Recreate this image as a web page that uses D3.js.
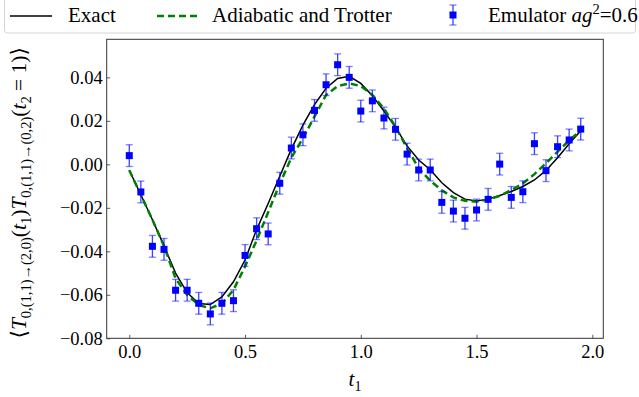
<!DOCTYPE html>
<html>
<head>
<meta charset="utf-8">
<script src="https://cdn.jsdelivr.net/npm/d3@7"></script>
<style>
  body { margin: 0; background: #fff; }
  svg text { font-family: "Liberation Serif", "DejaVu Serif", serif; fill: #000; }
</style>
</head>
<body>
<div id="chart"></div>
<script>
(function(){
    var width = 639;
    var height = 397;
    var serif = '"Liberation Serif", "DejaVu Serif", serif';

    // emulator points (t1 from 0 to 1.95, step 0.05)
    var times = [0.00, 0.05, 0.10, 0.15, 0.20, 0.25, 0.30, 0.35, 0.40, 0.45,
                 0.50, 0.55, 0.60, 0.65, 0.70, 0.75, 0.80, 0.85, 0.90, 0.95,
                 1.00, 1.05, 1.10, 1.15, 1.20, 1.25, 1.30, 1.35, 1.40, 1.45,
                 1.50, 1.55, 1.60, 1.65, 1.70, 1.75, 1.80, 1.85, 1.90, 1.95];

    var emulator = [0.0040, -0.0127, -0.0377, -0.0391, -0.0579, -0.0579, -0.0639, -0.0688, -0.0639, -0.0627,
                    -0.0419, -0.0296, -0.0320, -0.0087, 0.0075, 0.0136, 0.0248, 0.0366, 0.0458, 0.0400,
                    0.0245, 0.0292, 0.0213, 0.0161, 0.0047, -0.0026, -0.0026, -0.0175, -0.0215, -0.0248,
                    -0.0210, -0.0161, 0.0001, -0.0152, -0.0126, 0.0095, -0.0029, 0.0081, 0.0112, 0.0162];

    var emulatorErr = [0.005, 0.005, 0.005, 0.005, 0.005, 0.005, 0.005, 0.005, 0.005, 0.005,
                       0.005, 0.005, 0.005, 0.005, 0.005, 0.005, 0.005, 0.005, 0.005, 0.005,
                       0.005, 0.005, 0.005, 0.005, 0.005, 0.005, 0.005, 0.005, 0.005, 0.005,
                       0.005, 0.005, 0.005, 0.005, 0.005, 0.005, 0.005, 0.005, 0.005, 0.005];

    var exact = [-0.0027, -0.0140, -0.0255, -0.0375, -0.0500, -0.0590, -0.0640, -0.0645, -0.0610, -0.0540,
                 -0.0440, -0.0300, -0.0180, -0.0055, 0.0070, 0.0180, 0.0275, 0.0350, 0.0395, 0.0405,
                 0.0372, 0.0315, 0.0245, 0.0170, 0.0085, 0.0020, -0.0025, -0.0085, -0.0130, -0.0160,
                 -0.0169, -0.0160, -0.0143, -0.0125, -0.0102, -0.0072, -0.0028, 0.0030, 0.0095, 0.0155];

    var adiabatic = [-0.0027, -0.0140, -0.0255, -0.0375, -0.0525, -0.0600, -0.0647, -0.0662, -0.0640, -0.0578,
                     -0.0470, -0.0350, -0.0220, -0.0090, 0.0030, 0.0120, 0.0219, 0.0319, 0.0360, 0.0372,
                     0.0360, 0.0319, 0.0257, 0.0173, 0.0074, -0.0018, -0.0075, -0.0120, -0.0152, -0.0168,
                     -0.0172, -0.0162, -0.0145, -0.0118, -0.0088, -0.0045, 0.0005, 0.0058, 0.0110, 0.0155];

    var xTicks = [0.0, 0.5, 1.0, 1.5, 2.0];
    var yTicks = [-0.08, -0.06, -0.04, -0.02, 0.00, 0.02, 0.04];

    var svg = d3.select("#chart")
        .append("svg")
        .attr("width", width)
        .attr("height", height)

    var left = 106.7, right = 603.3, top = 39.3, bottom = 338.3;

    var x = d3.scaleLinear().domain([-0.0975, 2.0475]).range([left, right]);
    var y = d3.scaleLinear().domain([-0.08, 0.0575]).range([bottom, top]);

    // axes
    svg.append("g")
        .attr("transform", "translate(0," + bottom + ")")
        .call(d3.axisBottom(x).tickValues(xTicks).tickFormat(d3.format(".1f"))
            .tickSizeInner(-3.5).tickSizeOuter(0).tickPadding(7))
    svg.append("g")
        .attr("transform", "translate(" + left + ",0)")
        .call(d3.axisLeft(y).tickValues(yTicks).tickFormat(d3.format(".2f"))
            .tickSizeInner(-3.5).tickSizeOuter(0).tickPadding(4))

    svg.selectAll(".domain").remove()
    svg.selectAll(".tick line").attr("stroke", "#333").attr("stroke-width", 0.8)
    svg.selectAll(".tick text")
        .attr("font-family", serif)
        .style("font-family", serif)
        .style("font-size", "18.5px")
        .attr("fill", "#000")

    // curves
    var line = function(vals) {
        return d3.line()
            .x(function(d, i){ return x(times[i]) })
            .y(function(d){ return y(d) })(vals)
    }

    svg.append("path")
        .attr("d", line(exact))
        .attr("fill", "none")
        .attr("stroke", "#000")
        .attr("stroke-width", 1.5)

    svg.append("path")
        .attr("d", line(adiabatic))
        .attr("fill", "none")
        .attr("stroke", "#008000")
        .attr("stroke-width", 2.5)
        .attr("stroke-dasharray", "7,4")

    // error bars + markers
    var pts = svg.selectAll(".pt")
        .data(emulator)
        .enter().append("g")
        .attr("class", "pt")

    pts.append("line")
        .attr("x1", function(d, i){ return x(times[i]) })
        .attr("x2", function(d, i){ return x(times[i]) })
        .attr("y1", function(d, i){ return y(d - emulatorErr[i]) })
        .attr("y2", function(d, i){ return y(d + emulatorErr[i]) })
        .attr("stroke", "#0000ff")
        .attr("stroke-opacity", 0.75)
        .attr("stroke-width", 1.3)

    ;[-1, 1].forEach(function(s){
        pts.append("line")
            .attr("x1", function(d, i){ return x(times[i]) - 3.5 })
            .attr("x2", function(d, i){ return x(times[i]) + 3.5 })
            .attr("y1", function(d, i){ return y(d + s * emulatorErr[i]) })
            .attr("y2", function(d, i){ return y(d + s * emulatorErr[i]) })
            .attr("stroke", "#0000ff")
            .attr("stroke-opacity", 0.5)
            .attr("stroke-width", 1.3)
    })

    pts.append("rect")
        .attr("x", function(d, i){ return x(times[i]) - 3.5 })
        .attr("y", function(d){ return y(d) - 3.5 })
        .attr("width", 7)
        .attr("height", 7)
        .attr("fill", "#0000ff")

    // frame
    svg.append("rect")
        .attr("x", left).attr("y", top)
        .attr("width", right - left).attr("height", bottom - top)
        .attr("fill", "none")
        .attr("stroke", "#333")
        .attr("stroke-width", 1)

    // x label
    var xl = svg.append("text")
        .attr("x", 355).attr("y", 386)
        .attr("text-anchor", "middle")
        .attr("font-family", serif)
        .style("font-size", "21px")
    xl.append("tspan").style("font-style", "italic").text("t")
    xl.append("tspan").attr("dy", 5).style("font-size", "14px").text("1")

    // y label with sub scripts
    var parts = [
        ["\u27E8", "n"], ["T", "i"], ["0,(1,1)\u2192(2,0)", "s"], ["(", "n"], ["t", "i"], ["1", "s"], [")", "n"],
        ["T", "i"], ["0,(1,1)\u2192(0,2)", "s"], ["(", "n"], ["t", "i"], ["2", "s"], [" = 1)", "n"], ["\u27E9", "n"]
    ];
    var yl = svg.append("text")
        .attr("transform", "translate(26," + ((top + bottom) / 2 + 4) + ") rotate(-90)")
        .attr("text-anchor", "middle")
        .attr("font-family", serif)
        .style("font-size", "21.5px")
    var shift = 0;
    parts.forEach(function(p){
        var target = p[1] == "s" ? 5 : 0;
        var ts = yl.append("tspan").attr("dy", target - shift).text(p[0])
        shift = target;
        if (p[1] == "i") ts.style("font-style", "italic")
        if (p[1] == "s") ts.style("font-size", "14.5px")
    })

    // legend
    var lg = svg.append("g")
    lg.append("rect")
        .attr("x", 4.5).attr("y", -10)
        .attr("width", 631).attr("height", 43)
        .attr("rx", 3)
        .attr("fill", "#fff")
        .attr("stroke", "#d6d6d6")
        .attr("stroke-width", 1)

    lg.append("line")
        .attr("x1", 10).attr("x2", 52).attr("y1", 16).attr("y2", 16)
        .attr("stroke", "#000").attr("stroke-width", 1.5)
    lg.append("text").attr("x", 68).attr("y", 22).attr("font-family", serif)
        .style("font-size", "21px").text("Exact")

    lg.append("line")
        .attr("x1", 157).attr("x2", 198).attr("y1", 16).attr("y2", 16)
        .attr("stroke", "#008000").attr("stroke-width", 2.5)
        .attr("stroke-dasharray", "7,4")
    lg.append("text").attr("x", 212).attr("y", 22).attr("font-family", serif)
        .style("font-size", "21px").text("Adiabatic and Trotter")

    var mx = 453, my = 15;
    lg.append("line").attr("x1", mx).attr("x2", mx).attr("y1", my - 10).attr("y2", my + 10)
        .attr("stroke", "#0000ff").attr("stroke-opacity", 0.75).attr("stroke-width", 1.3)
    ;[-10, 10].forEach(function(o){
        lg.append("line").attr("x1", mx - 3.5).attr("x2", mx + 3.5).attr("y1", my + o).attr("y2", my + o)
            .attr("stroke", "#0000ff").attr("stroke-opacity", 0.5).attr("stroke-width", 1.3)
    })
    lg.append("rect").attr("x", mx - 3.5).attr("y", my - 3.5).attr("width", 7).attr("height", 7).attr("fill", "#0000ff")

    var et = lg.append("text").attr("x", 488).attr("y", 22).attr("font-family", serif).style("font-size", "21px")
    et.append("tspan").text("Emulator ")
    et.append("tspan").style("font-style", "italic").text("ag")
    et.append("tspan").attr("dy", -8).style("font-size", "14.5px").text("2")
    et.append("tspan").attr("dy", 8).text("=0.6")
})();
</script>
</body>
</html>
